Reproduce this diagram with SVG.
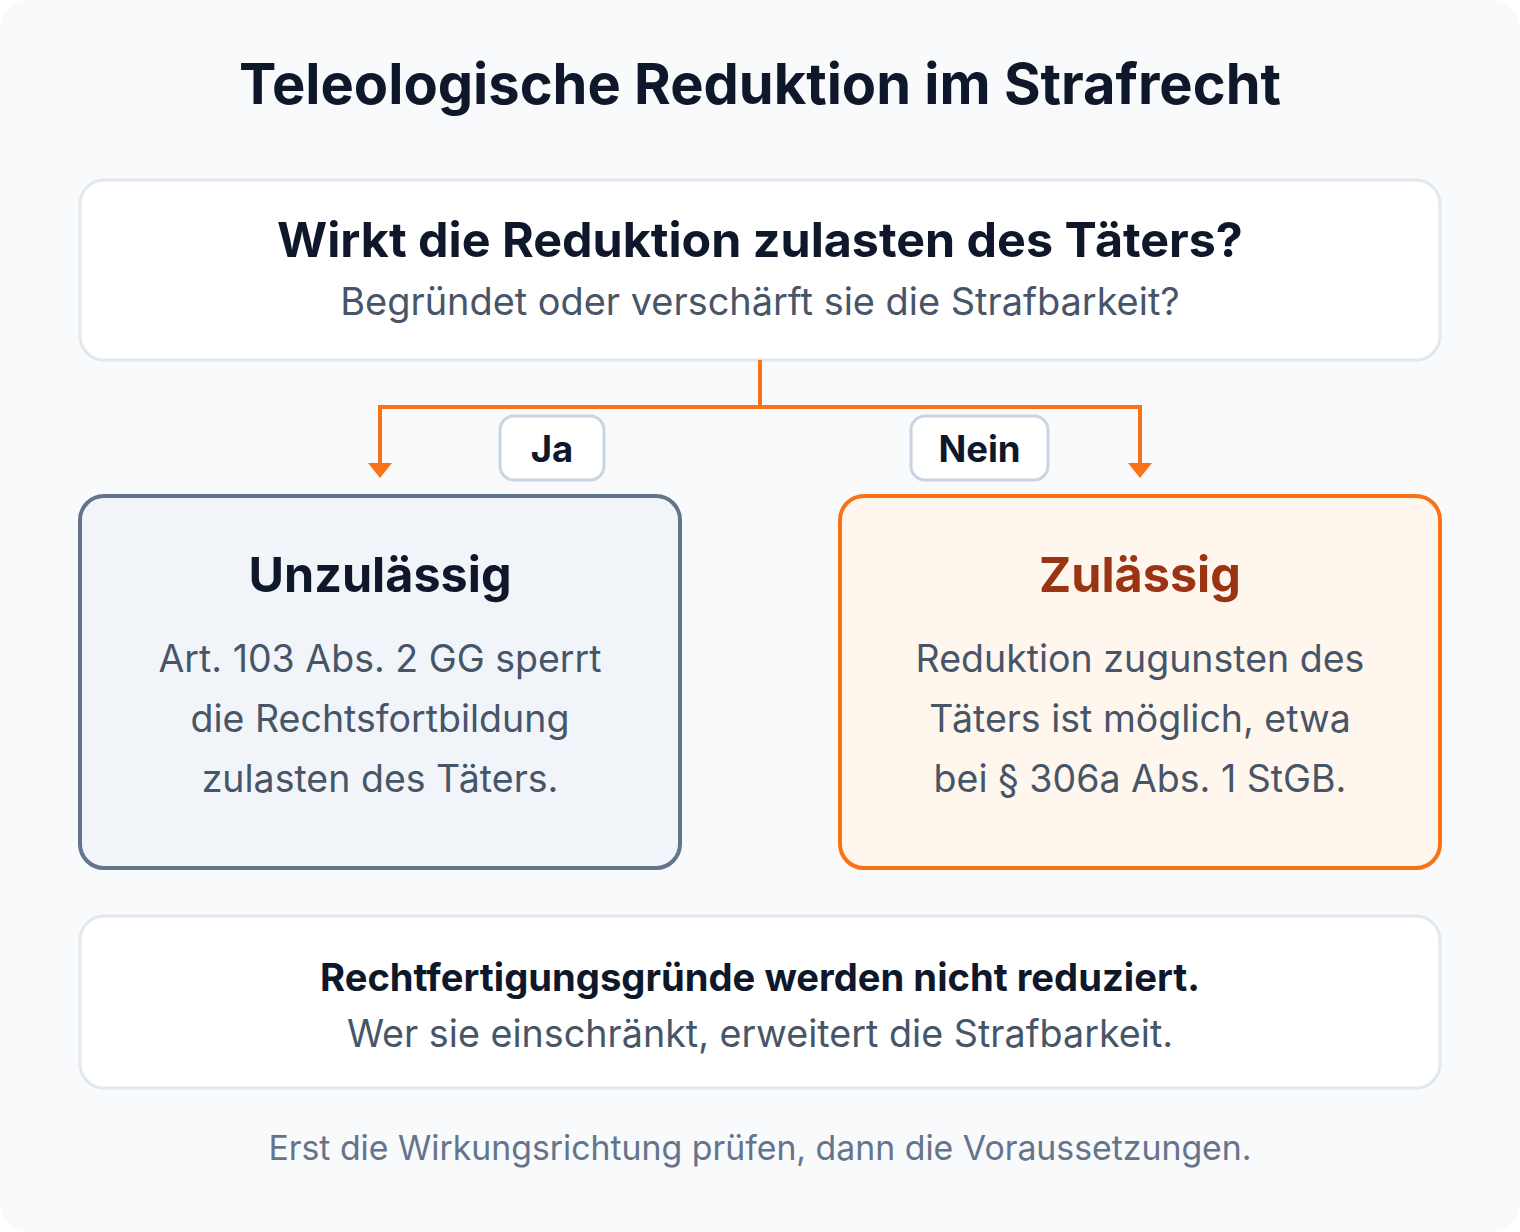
<svg xmlns="http://www.w3.org/2000/svg" width="1520" height="1232" viewBox="0 0 1520 1232">
<style>
text{font-family:Inter,"Noto Sans","Liberation Sans",sans-serif;text-anchor:middle}
.b{font-weight:700;fill:#0f172a}
.m{fill:#475569}
.edge{fill:none;stroke:#f97316;stroke-width:4}
.tag{fill:#ffffff;stroke:#cbd5e1;stroke-width:3}
</style>
<defs>
<marker id="arr" viewBox="0 0 15 24" refX="1" refY="12" markerWidth="15" markerHeight="24" markerUnits="userSpaceOnUse" orient="auto">
<path d="M0,0 L15,12 L0,24 Z" fill="#f97316"/>
</marker>
</defs>
<rect width="1520" height="1232" fill="#ffffff"/>
<rect x="0" y="0" width="1520" height="1232" rx="30" fill="#f8fafc"/>
<text class="b" x="760" y="104" font-size="56">Teleologische Reduktion im Strafrecht</text>
<g id="question">
<rect x="80" y="180" width="1360" height="180" rx="24" fill="#ffffff" stroke="#e2e8f0" stroke-width="3"/>
<text class="b" x="760" y="257" font-size="48.4">Wirkt die Reduktion zulasten des Täters?</text>
<text class="m" x="760" y="315" font-size="37.9">Begründet oder verschärft sie die Strafbarkeit?</text>
</g>
<g id="connectors">
<path class="edge" d="M760,360 V407"/>
<path class="edge" d="M760,407 H380 V464" marker-end="url(#arr)"/>
<path class="edge" d="M760,407 H1140 V464" marker-end="url(#arr)"/>
</g>
<g id="label-ja">
<rect class="tag" x="500" y="416" width="104" height="64" rx="14"/>
<text class="b" x="552" y="462" font-size="36.5">Ja</text>
</g>
<g id="label-nein">
<rect class="tag" x="911" y="416" width="137" height="64" rx="14"/>
<text class="b" x="979.500" y="462" font-size="36.5">Nein</text>
</g>
<g id="unzulaessig">
<rect x="80" y="496" width="600" height="372" rx="24" fill="#f1f5f9" stroke="#64748b" stroke-width="4"/>
<text class="b" x="380" y="592" font-size="48.5">Unzulässig</text>
<text class="m" x="380" y="672" font-size="37.5">Art. 103 Abs. 2 GG sperrt</text>
<text class="m" x="380" y="732" font-size="37.5">die Rechtsfortbildung</text>
<text class="m" x="380" y="792" font-size="37.5">zulasten des Täters.</text>
</g>
<g id="zulaessig">
<rect x="840" y="496" width="600" height="372" rx="24" fill="#fff7ed" stroke="#f97316" stroke-width="4"/>
<text class="b" x="1140" y="592" font-size="48.5" style="fill:#9a3412">Zulässig</text>
<text class="m" x="1140" y="672" font-size="37.5">Reduktion zugunsten des</text>
<text class="m" x="1140" y="732" font-size="37.5">Täters ist möglich, etwa</text>
<text class="m" x="1140" y="792" font-size="37.5">bei § 306a Abs. 1 StGB.</text>
</g>
<g id="note">
<rect x="80" y="916" width="1360" height="172" rx="24" fill="#ffffff" stroke="#e2e8f0" stroke-width="3"/>
<text class="b" x="760" y="991" font-size="38.2">Rechtfertigungsgründe werden nicht reduziert.</text>
<text class="m" x="760" y="1047" font-size="37.7">Wer sie einschränkt, erweitert die Strafbarkeit.</text>
</g>
<text x="760" y="1160" font-size="33.8" fill="#64748b">Erst die Wirkungsrichtung prüfen, dann die Voraussetzungen.</text>
</svg>
